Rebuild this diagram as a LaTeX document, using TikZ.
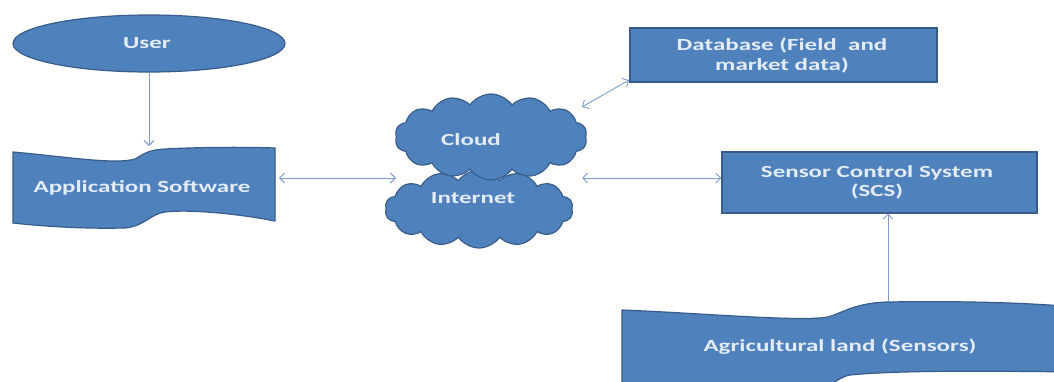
\documentclass[tikz,border=0pt]{standalone}
\usepackage{fontspec}
\setmainfont{Carlito}
\usetikzlibrary{shapes.geometric,shapes.symbols,arrows.meta}
\definecolor{fillblue}{HTML}{4F81BD}
\definecolor{edgeblue}{HTML}{385D8A}
\definecolor{arrowblue}{HTML}{7E9CCB}
\definecolor{txt}{HTML}{E3ECF7}
\newcommand{\wtxt}[1]{\scalebox{1.47}[1]{#1}}
\begin{document}
\begin{tikzpicture}[x=1pt,y=-1pt,
  shapestyle/.style={fill=fillblue,draw=edgeblue,line width=1.2pt},
  lbl/.style={text=txt,font=\bfseries\fontsize{17}{21}\selectfont,inner sep=0pt},
  conn/.style={draw=arrowblue,line width=0.9pt,{Straight Barb[length=5pt,width=10pt]}-{Straight Barb[length=5pt,width=10pt]}},
  one/.style={draw=arrowblue,line width=0.9pt,-{Straight Barb[length=5pt,width=10pt]}}]
\useasboundingbox (0,0) rectangle (1054,381);
\fill[white] (0,0) rectangle (1054,381);

% User
\node[shapestyle,ellipse,minimum width=272pt,minimum height=57pt,inner sep=0pt] (user) at (149,43.5) {};
\node[lbl] (userT) at (147,43) {\wtxt{User}};

% Application Software tape
\path[shapestyle] (13,152) .. controls (60,156) and (115,165) .. (135,159)
  .. controls (143,155) and (146,150) .. (165,149)
  .. controls (200,147) and (250,147) .. (275,148)
  -- (275,221)
  .. controls (240,214) and (190,209) .. (165,212)
  .. controls (150,214) and (145,226) .. (125,228)
  .. controls (80,229) and (40,226) .. (13,223) -- cycle;
\node[lbl] (appT) at (142,188) {\wtxt{Application Software}};
\coordinate (appTop) at (149,146);
\coordinate (appR) at (279,178);

% Clouds
\node[shapestyle,cloud,cloud puffs=14,cloud puff arc=110,aspect=2.2,minimum width=188pt,minimum height=78pt,inner sep=0pt] (internet) at (479,209) {};
\node[shapestyle,cloud,cloud puffs=14,cloud puff arc=110,aspect=2.2,minimum width=192pt,minimum height=86pt,inner sep=0pt] (cloud) at (491,137) {};
\node[lbl] (cloudT) at (471,140) {\wtxt{Cloud}};
\node[lbl] (internetT) at (473,198) {\wtxt{Internet}};
\coordinate (inL) at (396,178);
\coordinate (inR) at (582,178);
\coordinate (clNE) at (582,107);

% Database
\node[shapestyle,rectangle,minimum width=307pt,minimum height=54pt,inner sep=0pt] (db) at (783.5,55) {};
\node[lbl] (dbT) at (782,56) {\wtxt{\begin{tabular}{@{}c@{}}Database (Field\ \ and\\[-1pt]market data)\end{tabular}}};
\coordinate (dbSW) at (629,80);

% SCS
\node[shapestyle,rectangle,minimum width=315pt,minimum height=61pt,inner sep=0pt] (scs) at (879.5,182.5) {};
\node[lbl] (scsT) at (877,183) {\wtxt{\begin{tabular}{@{}c@{}}Sensor Control System\\[-2pt](SCS)\end{tabular}}};

% Agricultural land tape
\begin{scope}
\clip (0,0) rectangle (1054,381);
\path[shapestyle] (622,310) .. controls (700,313) and (800,322) .. (828,317)
  .. controls (842,313) and (855,303) .. (887,302)
  .. controls (950,301) and (1020,302) .. (1075,307)
  -- (1075,372)
  .. controls (1000,371) and (900,370) .. (850,375)
  .. controls (835,378) and (830,390) .. (810,392)
  -- (622,395) -- cycle;
\end{scope}
\node[lbl] (agriT) at (840,347) {\wtxt{Agricultural land (Sensors)}};
\coordinate (agriTop) at (888,302);

% Connectors
\draw[one] (user.south) -- (appTop);
\draw[conn] (appR) -- (inL);
\draw[conn] (inR) -- (scs.west |- inR);
\draw[conn] (clNE) -- (dbSW);
\draw[one] (agriTop) -- (scs.south -| agriTop);
\end{tikzpicture}
\end{document}
